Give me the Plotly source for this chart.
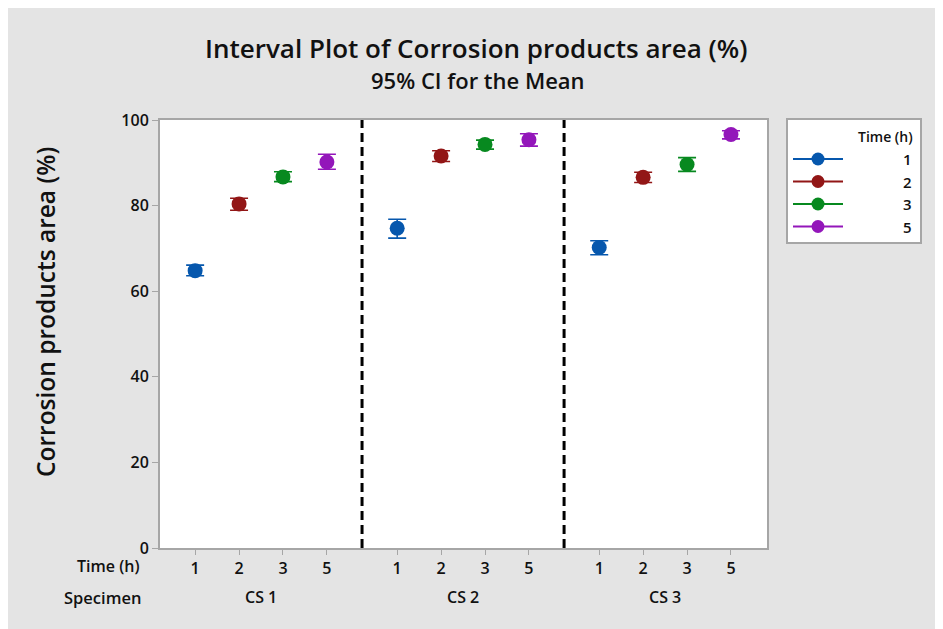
import plotly.graph_objects as go

# ---- data ----
specimens = ["CS 1", "CS 2", "CS 3"]
times = ["1", "2", "3", "5"]
means = {
    "CS 1": [64.8, 80.4, 86.7, 90.2],
    "CS 2": [74.7, 91.6, 94.3, 95.4],
    "CS 3": [70.2, 86.6, 89.6, 96.6],
}
upper = {
    "CS 1": [66.1, 81.7, 87.9, 92.0],
    "CS 2": [76.8, 92.8, 95.3, 96.8],
    "CS 3": [71.8, 87.8, 91.2, 97.5],
}
lower = {
    "CS 1": [63.6, 78.9, 85.6, 88.5],
    "CS 2": [72.4, 90.3, 93.2, 93.9],
    "CS 3": [68.5, 85.4, 88.0, 95.6],
}
colors = ["#0657AD", "#921616", "#07891F", "#9316BA"]
y_ticks = [0, 20, 40, 60, 80, 100]

FONT = "Open Sans"
TXT = "#111111"
GROUP_STEP = 4.6

# page geometry (page has an 8px body margin)
OFF = 8
W, H = 943 - OFF, 629 - OFF
L, T = 160 - OFF, 120 - OFF
B = H - (548 - OFF)
R = W - (920 - OFF)
pw, ph = W - L - R, H - T - B


def px(x):
    return (x - OFF - L) / pw


def py(y):
    return 1 - (y - OFF - T) / ph


main_dom = [0, px(767)]
leg_dom_x = [px(788), 1.0]
leg_dom_y = [py(242), 1.0]

fig = go.Figure()

tickvals, ticktext = [], []
for g, sp in enumerate(specimens):
    for i, t in enumerate(times):
        xpos = g * GROUP_STEP + i + 1
        tickvals.append(xpos)
        ticktext.append(t)
        m = means[sp][i]
        fig.add_trace(go.Scatter(
            x=[xpos], y=[m], mode="markers",
            marker=dict(color=colors[i], size=15),
            error_y=dict(type="data", symmetric=False,
                         array=[upper[sp][i] - m], arrayminus=[m - lower[sp][i]],
                         color=colors[i], thickness=1.6, width=9),
            showlegend=False, hoverinfo="y", name=f"{sp}, {t} h",
        ))

# legend box drawn in its own small axes
def lx(xp):
    return (xp - 788) / 132


def ly(yp):
    return (242 - yp) / 122


leg_rows = [159, 181.5, 204, 226.5]
annotations = []
for i, t in enumerate(times):
    yy = ly(leg_rows[i])
    fig.add_trace(go.Scatter(
        x=[lx(793), lx(843)], y=[yy, yy], mode="lines",
        line=dict(color=colors[i], width=2),
        xaxis="x2", yaxis="y2", showlegend=False, hoverinfo="skip",
    ))
    fig.add_trace(go.Scatter(
        x=[lx(818)], y=[yy], mode="markers",
        marker=dict(color=colors[i], size=13, opacity=1),
        xaxis="x2", yaxis="y2", showlegend=False, hoverinfo="skip",
    ))
    annotations.append(dict(text=t, x=lx(914), y=yy, xref="x2", yref="y2",
                            showarrow=False, xanchor="right", yanchor="middle",
                            font=dict(family=FONT, size=15, color=TXT, weight=600)))
annotations.append(dict(text="Time (h)", x=lx(915), y=ly(136), xref="x2", yref="y2",
                        showarrow=False, xanchor="right", yanchor="middle",
                        font=dict(family=FONT, size=14, color=TXT, weight=600)))

shapes = []
for g in range(1, len(specimens)):
    xd = (g - 1) * GROUP_STEP + len(times) + (GROUP_STEP - len(times) + 1) / 2
    shapes.append(dict(type="line", xref="x", yref="y domain", x0=xd, x1=xd, y0=0, y1=1,
                       line=dict(color="black", width=3, dash="9px,5px")))

annotations += [
    dict(text="Interval Plot of Corrosion products area (%)", x=px(476), y=py(48),
         xref="paper", yref="paper", showarrow=False, xanchor="center", yanchor="middle",
         font=dict(family=FONT, size=26, color=TXT, weight=600)),
    dict(text="95% CI for the Mean", x=px(478), y=py(80),
         xref="paper", yref="paper", showarrow=False, xanchor="center", yanchor="middle",
         font=dict(family=FONT, size=22, color=TXT, weight=600)),
    dict(text="Corrosion products area (%)", x=px(45), y=py(312), textangle=-90,
         xref="paper", yref="paper", showarrow=False, xanchor="center", yanchor="middle",
         font=dict(family=FONT, size=24.5, color=TXT, weight=600)),
    dict(text="Time (h)", x=px(141), y=py(566), xref="paper", yref="paper",
         showarrow=False, xanchor="right", yanchor="middle",
         font=dict(family=FONT, size=16, color=TXT, weight=600)),
    dict(text="Specimen", x=px(143), y=py(597), xref="paper", yref="paper",
         showarrow=False, xanchor="right", yanchor="middle",
         font=dict(family=FONT, size=16.5, color=TXT, weight=600)),
]
for g, sp in enumerate(specimens):
    xc = g * GROUP_STEP + (1 + len(times)) / 2
    annotations.append(dict(text=sp, x=xc, y=py(597), xref="x", yref="paper",
                            showarrow=False, xanchor="center", yanchor="middle",
                            font=dict(family=FONT, size=16, color=TXT, weight=600)))

fig.update_layout(
    width=W, height=H,
    margin=dict(l=L, r=R, t=T, b=B, pad=0),
    paper_bgcolor="#e4e4e4", plot_bgcolor="white",
    font=dict(family=FONT, color=TXT),
    shapes=shapes, annotations=annotations,
    showlegend=False,
    xaxis=dict(domain=main_dom, range=[0.2, 2 * GROUP_STEP + 4.82],
               tickvals=tickvals, ticktext=ticktext,
               showgrid=False, zeroline=False, showline=True, linecolor="#a6a6a6", linewidth=2,
               mirror=True, ticks="outside", ticklen=5, tickcolor="#a6a6a6",
               tickfont=dict(family=FONT, size=16, color=TXT, weight=600)),
    yaxis=dict(range=[0, 100], tickvals=y_ticks, showgrid=False, zeroline=False,
               showline=True, linecolor="#a6a6a6", linewidth=2, mirror=True,
               ticks="outside", ticklen=6, tickcolor="#a6a6a6",
               tickfont=dict(family=FONT, size=16, color=TXT, weight=600)),
    xaxis2=dict(domain=leg_dom_x, range=[0, 1], anchor="y2", visible=True,
                showticklabels=False, ticks="", showgrid=False, zeroline=False,
                showline=True, mirror=True, linecolor="#a6a6a6", linewidth=1.5),
    yaxis2=dict(domain=leg_dom_y, range=[0, 1], anchor="x2", visible=True,
                showticklabels=False, ticks="", showgrid=False, zeroline=False,
                showline=True, mirror=True, linecolor="#a6a6a6", linewidth=1.5),
)

fig.write_html("out.html")
